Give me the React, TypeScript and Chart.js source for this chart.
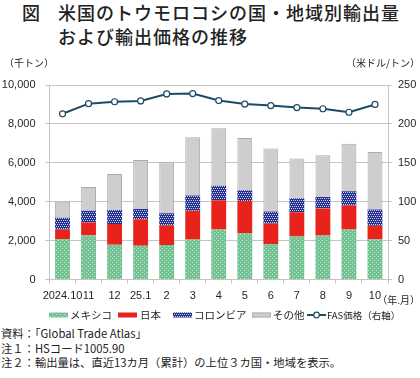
import React, { useEffect, useRef } from 'react';
import { Chart, registerables } from 'chart.js';

Chart.register(...registerables);

const categories = ['2024.10', '11', '12', '25.1', '2', '3', '4', '5', '6', '7', '8', '9', '10'];
const mexico = [2070, 2270, 1790, 1740, 1780, 2060, 2570, 2380, 1820, 2210, 2260, 2570, 2070];
const japan = [500, 660, 1060, 1360, 1000, 1470, 1510, 1650, 1060, 1250, 1390, 1230, 690];
const colombia = [600, 620, 720, 530, 630, 790, 735, 560, 620, 720, 600, 740, 840];
const others = [830, 1210, 1860, 2520, 2620, 3000, 2965, 2680, 3240, 2040, 2140, 2440, 2950];
const fasPrice = [213, 226, 228.5, 229.5, 238.5, 239, 230, 225.5, 223.5, 221, 219.5, 215, 225];
const leftTicks = [0, 2000, 4000, 6000, 8000, 10000];
const rightTicks = [0, 50, 100, 150, 200, 250];
const legendLabels = ['メキシコ', '日本', 'コロンビア', 'その他', 'FAS価格（右軸）'];

const JP = "'Noto Sans CJK JP', sans-serif";
const NUM = "'Liberation Sans', Arial, sans-serif";
const TEXT = '#262626';
const GRID = '#c4c4c4';
const LINE = '#1e4a66';

function makePattern(base: string, dot: string, size: number, dots: number[][]) {
  const c = document.createElement('canvas');
  c.width = size;
  c.height = size;
  const g = c.getContext('2d')!;
  g.fillStyle = base;
  g.fillRect(0, 0, size, size);
  g.fillStyle = dot;
  dots.forEach(([x, y]) => g.fillRect(x, y, 1, 1));
  return g.createPattern(c, 'repeat')!;
}

export default function App() {
  const ref = useRef<HTMLCanvasElement | null>(null);

  useEffect(() => {
    const canvas = ref.current;
    if (!canvas) return;
    const green = makePattern('#74c293', '#c2e8d0', 4, [[0, 0], [2, 2]]);
    const blue = makePattern('#25318c', '#c8d0f5', 4, [[0, 0], [2, 0], [1, 2], [3, 2]]);
    const red = '#e8231c';
    const gray = '#cecece';

    const extras = {
      id: 'extras',
      afterDraw(chart: any) {
        const ctx = chart.ctx as CanvasRenderingContext2D;
        ctx.save();
        ctx.fillStyle = TEXT;
        ctx.font = `10px ${JP}`;
        ctx.textBaseline = 'middle';
        ctx.textAlign = 'left';
        ctx.fillText('（千トン）', 4, 13);
        ctx.textAlign = 'right';
        ctx.fillText('（米ドル/トン）', 420, 13);
        ctx.fillText('（年.月）', 420, 250);

        // legend
        const ly = 265;
        const swatches: [number, any][] = [[49, green], [118, red], [173, blue], [252, gray]];
        const textX = [70, 140, 194, 273, 327];
        swatches.forEach(([x, fill], i) => {
          ctx.fillStyle = fill;
          ctx.fillRect(x, ly - 2.5, 19, 5);
          if (i === 3) {
            ctx.strokeStyle = '#b0b0b0';
            ctx.lineWidth = 1;
            ctx.strokeRect(x + 0.5, ly - 2, 18, 4);
          }
        });
        ctx.strokeStyle = LINE;
        ctx.lineWidth = 2;
        ctx.beginPath();
        ctx.moveTo(307, ly);
        ctx.lineTo(326, ly);
        ctx.stroke();
        ctx.fillStyle = '#fff';
        ctx.lineWidth = 1.2;
        ctx.beginPath();
        ctx.arc(316.5, ly, 2.8, 0, Math.PI * 2);
        ctx.fill();
        ctx.stroke();
        ctx.fillStyle = TEXT;
        ctx.textAlign = 'left';
        ctx.font = `10.5px ${JP}`;
        legendLabels.forEach((t, i) => {
          if (i === 4) ctx.font = `9.5px ${JP}`;
          ctx.fillText(t, textX[i], ly);
        });
        ctx.restore();
      },
    };

    const tickFont = { family: NUM, size: 11 };
    const chart = new Chart(canvas, {
      type: 'bar',
      data: {
        labels: categories,
        datasets: [
          {
            type: 'line',
            label: legendLabels[4],
            data: fasPrice,
            yAxisID: 'y2',
            borderColor: LINE,
            borderWidth: 2,
            pointRadius: 3,
            pointBackgroundColor: '#fff',
            pointBorderColor: LINE,
            pointBorderWidth: 1.2,
            order: 0,
            tension: 0,
          } as any,
          { label: legendLabels[0], data: mexico, backgroundColor: green, yAxisID: 'y', order: 1, borderWidth: 0 },
          { label: legendLabels[1], data: japan, backgroundColor: red, yAxisID: 'y', order: 1, borderWidth: 0 },
          { label: legendLabels[2], data: colombia, backgroundColor: blue, yAxisID: 'y', order: 1, borderWidth: 0 },
          {
            label: legendLabels[3],
            data: others,
            backgroundColor: gray,
            borderColor: '#ababab',
            borderWidth: 1,
            yAxisID: 'y',
            order: 1,
          },
        ],
      },
      options: {
        animation: false,
        responsive: false,
        devicePixelRatio: 1,
        layout: { padding: { top: 35, left: 0, right: 0, bottom: 0 } },
        datasets: { bar: { barPercentage: 0.57, categoryPercentage: 1 } },
        plugins: { legend: { display: false }, tooltip: { enabled: false } },
        scales: {
          x: {
            stacked: true,
            offset: true,
            grid: { display: true, drawOnChartArea: false, tickLength: 4, color: GRID, offset: true },
            border: { color: GRID },
            ticks: { autoSkip: false, maxRotation: 0, minRotation: 0, padding: 6, font: tickFont, color: TEXT },
            afterFit: (s: any) => {
              s.height = 45.5;
            },
          },
          y: {
            stacked: true,
            position: 'left',
            min: 0,
            max: 10000,
            afterBuildTicks: (s: any) => {
              s.ticks = leftTicks.map((v) => ({ value: v }));
            },
            ticks: {
              padding: 10,
              font: tickFont,
              color: TEXT,
              callback: (v: any) => Number(v).toLocaleString('en-US'),
            },
            grid: { color: GRID, tickLength: 4 },
            border: { color: GRID },
            afterFit: (s: any) => {
              s.width = 49.5;
            },
          },
          y2: {
            position: 'right',
            min: 0,
            max: 250,
            afterBuildTicks: (s: any) => {
              s.ticks = rightTicks.map((v) => ({ value: v }));
            },
            ticks: { padding: 6, font: tickFont, color: TEXT },
            grid: { drawOnChartArea: false, tickLength: 4, color: GRID },
            border: { color: GRID },
            afterFit: (s: any) => {
              s.width = 32;
            },
          },
        },
      } as any,
      plugins: [extras],
    });
    return () => chart.destroy();
  }, []);

  const titleStyle: React.CSSProperties = {
    position: 'absolute',
    fontFamily: JP,
    fontSize: 18,
    fontWeight: 500,
    letterSpacing: 1,
    lineHeight: '24px',
    color: '#222',
    whiteSpace: 'nowrap',
  };
  const noteStyle: React.CSSProperties = {
    fontFamily: JP,
    fontSize: 11.3,
    lineHeight: '14.5px',
    color: '#222',
    whiteSpace: 'nowrap',
  };

  return (
    <div style={{ position: 'absolute', left: 0, top: 0, width: 420, height: 378, background: '#fff', overflow: 'hidden' }}>
      <div style={{ ...titleStyle, left: 22, top: 0 }}>図</div>
      <div style={{ ...titleStyle, left: 58, top: 0 }}>米国のトウモロコシの国・地域別輸出量</div>
      <div style={{ ...titleStyle, left: 58, top: 24 }}>および輸出価格の推移</div>
      <canvas ref={ref} width={420} height={275} style={{ position: 'absolute', left: 0, top: 50, width: 420, height: 275 }} />
      <div style={{ position: 'absolute', left: 1, top: 326 }}>
        <div style={noteStyle}>資料：「Global Trade Atlas」</div>
        <div style={noteStyle}>注１：HSコード1005.90</div>
        <div style={noteStyle}>注２：輸出量は、直近13カ月（累計）の上位３カ国・地域を表示。</div>
      </div>
    </div>
  );
}
